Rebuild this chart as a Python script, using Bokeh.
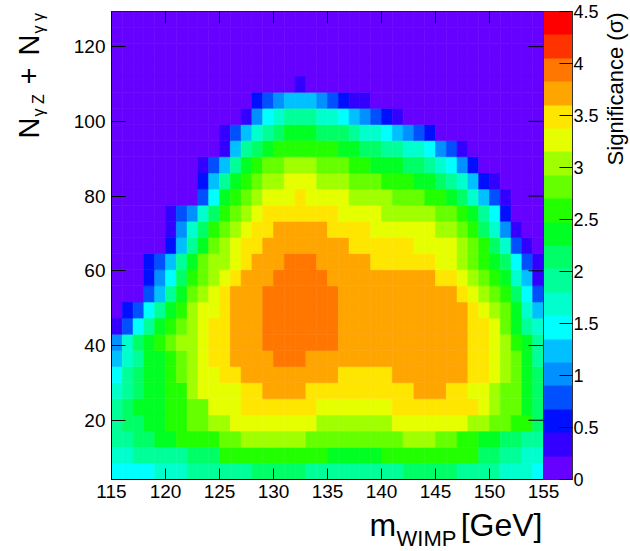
import numpy as np
from bokeh.plotting import figure
from bokeh.layouts import row, column
from bokeh.models import (ColumnDataSource, LinearColorMapper, ColorBar, FixedTicker,
                          PrintfTickFormatter, Range1d)
from bokeh.embed import file_html
from bokeh.resources import INLINE
from bokeh.core.properties import value

# ---------------- data ----------------
mass_edges = list(range(115, 156))          # m_WIMP bin edges [GeV], 1 GeV bins
count_lo, count_hi, n_count_bins = 4.14, 129.4, 29
x_ticks = [115, 120, 125, 130, 135, 140, 145, 150, 155]
y_ticks = [20, 40, 60, 80, 100, 120]
z_ticks = [0, 0.5, 1, 1.5, 2, 2.5, 3, 3.5, 4, 4.5]
palette = ["#6600FF", "#3300FF", "#0010FF", "#0050FF", "#0090FF", "#00C0FF", "#00FFFF",
           "#00FFCC", "#00FF99", "#00FF66", "#00FF22", "#22FF00", "#66FF00", "#A0FF00",
           "#E6FF00", "#FFE600", "#FFA500", "#FF7700", "#FF3300", "#FF0000"]

# significance per cell, rows from top (N ~ 129) to bottom (N ~ 4), 40 mass bins each
sig_rows = [
    [0.1] * 40,
    [0.1] * 40,
    [0.1] * 40,
    [0.1] * 40,
    [0.1] * 17 + [0.3] + [0.1] * 22,
    [0.1] * 13 + [0.5, 0.8, 1.0, 1.2, 1.2, 1.2, 1.0, 0.8, 0.5, 0.3, 0.3] + [0.1] * 16,
    [0.1] * 12 + [0.3, 1.0, 1.4, 1.7, 1.9, 1.9, 1.9, 1.7, 1.7, 1.4, 1.2, 1.0, 0.8, 0.5, 0.3] + [0.1] * 13,
    [0.1] * 10 + [0.3, 0.8, 1.2, 1.7, 1.9, 2.1, 2.4, 2.4, 2.4, 2.1, 2.1, 2.1, 1.9, 1.7, 1.7, 1.4,
                  1.2, 1.0, 0.8, 0.5] + [0.1] * 10,
    [0.1] * 10 + [0.3, 1.2, 1.9, 2.1, 2.4, 2.6, 2.6, 2.6, 2.6, 2.6, 2.6, 2.4, 2.4, 2.1, 2.1, 1.9,
                  1.9, 1.7, 1.7, 1.4, 1.0, 0.8, 0.3] + [0.1] * 7,
    [0.1] * 8 + [0.3, 0.8, 1.2, 1.9, 2.4, 2.6, 2.8, 2.8, 3.0, 3.0, 3.0, 2.8, 2.8, 2.8, 2.6, 2.6,
                 2.4, 2.4, 2.4, 2.1, 2.1, 1.9, 1.7, 1.4, 1.0, 0.5] + [0.1] * 6,
    [0.1] * 8 + [0.5, 1.2, 1.9, 2.4, 2.6, 2.8, 3.0, 3.0, 3.3, 3.3, 3.3, 3.0, 3.0, 3.0, 2.8, 2.8,
                 2.8, 2.6, 2.6, 2.6, 2.4, 2.4, 2.1, 1.9, 1.7, 1.2, 0.5, 0.3] + [0.1] * 4,
    [0.1] * 8 + [0.8, 1.4, 2.4, 2.6, 2.8, 3.0, 3.3, 3.3, 3.3, 3.5, 3.3, 3.3, 3.3, 3.3, 3.0, 3.0,
                 3.0, 3.0, 2.8, 2.8, 2.8, 2.6, 2.6, 2.4, 2.1, 1.7, 1.2, 0.8, 0.3] + [0.1] * 3,
    [0.1] * 5 + [0.3, 0.8, 1.0, 1.7, 2.1, 2.6, 2.8, 3.0, 3.3, 3.5, 3.5, 3.5, 3.5, 3.5, 3.5, 3.5,
                 3.3, 3.3, 3.3, 3.3, 3.0, 3.0, 3.0, 3.0, 3.0, 2.8, 2.8, 2.6, 2.4, 1.9, 1.4, 0.5] + [0.1] * 3,
    [0.1] * 5 + [0.3, 1.0, 1.7, 2.1, 2.6, 2.8, 3.0, 3.3, 3.5, 3.5, 3.7, 3.7, 3.7, 3.7, 3.7, 3.5,
                 3.5, 3.5, 3.5, 3.3, 3.3, 3.3, 3.3, 3.3, 3.3, 3.0, 3.0, 2.8, 2.6, 2.1, 1.7, 1.0, 0.3] + [0.1] * 2,
    [0.1] * 5 + [0.5, 1.2, 1.9, 2.4, 2.8, 3.0, 3.3, 3.5, 3.5, 3.7, 3.7, 3.7, 3.7, 3.7, 3.7, 3.7,
                 3.7, 3.5, 3.5, 3.5, 3.5, 3.5, 3.5, 3.3, 3.3, 3.3, 3.3, 3.0, 2.8, 2.6, 2.1, 1.7, 0.8, 0.3] + [0.1],
    [0.1] * 3 + [0.5, 0.8, 1.2, 1.9, 2.4, 2.8, 3.0, 3.0, 3.3, 3.5, 3.7, 3.7, 3.7, 3.9, 3.9, 3.9,
                 3.7, 3.7, 3.7, 3.7, 3.7, 3.5, 3.5, 3.5, 3.5, 3.5, 3.5, 3.3, 3.3, 3.0, 2.8, 2.6, 2.4,
                 2.1, 1.4, 0.8, 0.3],
    [0.1] * 3 + [0.5, 1.0, 1.4, 2.1, 2.6, 2.8, 3.0, 3.3, 3.5] + [3.7] * 3 + [3.9] * 5 + [3.7] * 10
    + [3.5, 3.5, 3.3, 3.0, 2.8, 2.6, 2.4, 1.7, 1.2, 0.3],
    [0.1] * 3 + [0.8, 1.2, 1.9, 2.4, 2.8, 3.0, 3.3, 3.5] + [3.7] * 3 + [3.9] * 7 + [3.7] * 11
    + [3.5, 3.3, 3.0, 2.8, 2.6, 2.1, 1.4, 0.8],
    [0.1] + [0.5, 0.8, 1.4, 1.9, 2.4, 2.6, 3.0, 3.3, 3.3, 3.5] + [3.7] * 3 + [3.9] * 7 + [3.7] * 12
    + [3.5, 3.3, 3.0, 2.8, 2.4, 1.7, 1.2],
    [0.3, 0.8, 1.4, 1.9, 2.4, 2.6, 2.8, 3.0, 3.3, 3.5, 3.5] + [3.7] * 3 + [3.9] * 7 + [3.7] * 12
    + [3.5, 3.5, 3.3, 2.8, 2.4, 1.9, 1.7],
    [1.0, 1.7, 2.1, 2.4, 2.6, 2.8, 3.0, 3.0, 3.3, 3.5, 3.5] + [3.7] * 3 + [3.9] * 7 + [3.7] * 12
    + [3.5, 3.5, 3.3, 3.0, 2.6, 2.4, 1.9],
    [1.2, 1.7, 1.9, 2.4, 2.4, 2.6, 2.8, 3.0, 3.3, 3.5, 3.5] + [3.7] * 4 + [3.9] * 3 + [3.7] * 15
    + [3.5, 3.5, 3.3, 3.0, 2.8, 2.4, 1.9],
    [1.4, 1.9, 2.1, 2.4, 2.4, 2.6, 2.8, 3.0, 3.3, 3.3, 3.5, 3.5] + [3.7] * 9 + [3.5] * 5 + [3.7] * 7
    + [3.5, 3.5, 3.3, 3.0, 2.8, 2.4, 2.1],
    [1.7, 1.9, 2.1, 2.4, 2.4, 2.6, 2.6, 3.0, 3.3, 3.3, 3.3, 3.3, 3.5, 3.5] + [3.7] * 4 + [3.5] * 10
    + [3.7] * 3 + [3.5, 3.5, 3.3, 3.3, 3.0, 2.8, 2.8, 2.4, 2.1],
    [1.9, 2.1, 2.4, 2.4, 2.4, 2.6, 2.6, 2.8, 2.8, 3.3, 3.3, 3.3] + [3.5] * 7 + [3.3] * 7 + [3.5] * 8
    + [3.3, 3.0, 2.8, 2.8, 2.4, 2.1],
    [1.9, 2.1, 2.1, 2.4, 2.4, 2.6, 2.6, 2.8, 2.8, 3.0, 3.0] + [3.3] * 8 + [3.0] * 7 + [3.3] * 7
    + [3.0, 3.0, 2.8, 2.8, 2.6, 2.6, 2.1],
    [1.9, 1.9, 2.1, 2.1, 2.4, 2.4, 2.6, 2.6, 2.6, 2.6, 2.8, 2.8] + [3.0] * 6 + [2.8] * 9 + [3.0] * 3
    + [2.8, 2.8, 2.6, 2.6, 2.4, 2.4, 2.1, 2.1, 1.9, 1.9],
    [1.7, 1.7] + [1.9] * 5 + [2.1] * 3 + [2.6] * 10 + [2.4] * 5 + [2.6] * 9
    + [2.1, 2.1, 1.9, 1.9, 1.7, 1.7],
    [1.4] * 4 + [1.7] * 3 + [1.9] * 6 + [2.1] * 5 + [1.9] * 9 + [2.1] * 5 + [1.9] * 4 + [1.7] * 3 + [1.4],
]

# ---------------- build cells ----------------
count_edges = np.linspace(count_lo, count_hi, n_count_bins + 1)
left, right, bottom, top, sig = [], [], [], [], []
for j, r in enumerate(sig_rows[::-1]):
    for i, s in enumerate(r):
        left.append(mass_edges[i]); right.append(mass_edges[i + 1])
        bottom.append(count_edges[j]); top.append(count_edges[j + 1])
        sig.append(s)
src = ColumnDataSource(dict(left=left, right=right, bottom=bottom, top=top, sig=sig))

FONT = "Liberation Sans"
PAGE_H = 551
LEFT_W = 58            # width of the strip holding the y title
B_LEFT, B_RIGHT, B_TOP, B_BOTTOM = 53, 60, 11, 27
FRAME_W, FRAME_H = 432, 468
MAIN_W = B_LEFT + FRAME_W + B_RIGHT
MAIN_H = B_TOP + FRAME_H + B_BOTTOM
RIGHT_W = 630 - LEFT_W - MAIN_W
mapper = LinearColorMapper(palette=palette, low=0, high=4.5)

# ---------------- main panel ----------------
p = figure(width=MAIN_W, height=MAIN_H,
           x_range=Range1d(mass_edges[0], mass_edges[-1]), y_range=Range1d(count_lo, count_hi),
           output_backend="svg", toolbar_location=None,
           min_border_left=B_LEFT, min_border_right=B_RIGHT, min_border_top=B_TOP,
           min_border_bottom=B_BOTTOM,
           background_fill_color="white", border_fill_color="white")
p.grid.visible = False
p.outline_line_color = "black"
p.outline_line_width = 1

p.quad(left="left", right="right", bottom="bottom", top="top", source=src,
       fill_color={"field": "sig", "transform": mapper},
       line_color={"field": "sig", "transform": mapper}, line_width=0.6)

xa = p.xaxis[0]
xa.ticker = FixedTicker(ticks=x_ticks)
xa.major_tick_in = 11
xa.major_tick_out = 0
xa.major_label_standoff = 5
ya = p.yaxis[0]
ya.ticker = FixedTicker(ticks=y_ticks)
ya.major_tick_in = 14
ya.major_tick_out = 0
ya.major_label_standoff = 6
for ax in (xa, ya):
    ax.minor_tick_line_color = None
    ax.major_label_text_font = FONT
    ax.major_label_text_font_size = "19px"
    ax.major_label_text_color = "black"
    ax.axis_line_color = "black"
    ax.major_tick_line_color = "black"

# mirrored ticks on the top and right frame edges
top_len = 12 / 3.736
right_len = 15 / 10.8
p.segment(x0=x_ticks, x1=x_ticks, y0=[count_hi] * len(x_ticks),
          y1=[count_hi - top_len] * len(x_ticks), line_color="black", line_width=1)
p.segment(x0=[mass_edges[-1]] * len(y_ticks), x1=[mass_edges[-1] - right_len] * len(y_ticks),
          y0=y_ticks, y1=y_ticks, line_color="black", line_width=1)

cb = ColorBar(color_mapper=mapper, ticker=FixedTicker(ticks=z_ticks),
              formatter=PrintfTickFormatter(format="%g"),
              location="top_left", width=29, padding=0, margin=4,
              major_tick_in=13, major_tick_out=0, major_tick_line_color="black",
              minor_tick_line_color=None, label_standoff=1,
              major_label_text_font=FONT, major_label_text_font_size="18px",
              major_label_text_color="black",
              bar_line_color="#333333", border_line_color=None, background_fill_color=None)
p.add_layout(cb, "right")


# ---------------- text strips ----------------
MID = 0.3465   # centre of the text box above the baseline, in em


def strip(w, h, x_start, x_end, bl=0, br=0):
    # blank figure: x in page pixels (x_start..x_end over its frame), y measured from strip bottom
    return figure(width=w, height=h, x_range=Range1d(x_start, x_end), y_range=Range1d(0, h),
                  x_axis_type=None, y_axis_type=None, output_backend="svg",
                  toolbar_location=None, min_border=0, min_border_left=bl, min_border_right=br,
                  outline_line_color=None,
                  background_fill_color="white", border_fill_color="white")


def put(f, y0, h, text, cx, cy, size):
    f.text(x=[cx], y=[h - (cy - y0)], text=[text], angle=0.0,
           text_font=value(FONT), text_font_size=f"{size}px", text_align="center",
           text_baseline="middle", text_color="black")


def put_up(f, y0, h, text, base_x, start_y, size, width_em):
    # text reading bottom-to-top: baseline at page x = base_x, text starts at page y = start_y
    cx = base_x - MID * size
    cy = start_y - width_em * size / 2
    f.text(x=[cx], y=[h - (cy - y0)], text=[text], angle=np.pi / 2,
           text_font=value(FONT), text_font_size=f"{size}px", text_align="center",
           text_baseline="middle", text_color="black")


# y-axis title  N_{γ Z} + N_{γ γ}
ylab = strip(LEFT_W, PAGE_H, 0, LEFT_W)
put_up(ylab, 0, PAGE_H, "N", 38.5, 138, 29, 0.722)
put_up(ylab, 0, PAGE_H, "γ Z", 43.5, 116, 16, 1.39)
put_up(ylab, 0, PAGE_H, "+", 38.5, 84, 29, 0.584)
put_up(ylab, 0, PAGE_H, "N", 38.5, 55, 29, 0.722)
put_up(ylab, 0, PAGE_H, "γ γ", 43.5, 33, 16, 1.28)

# x-axis title  m_WIMP [GeV]  (strip frame spans the same page x as the main frame)
XB_H = PAGE_H - MAIN_H
fx0 = LEFT_W + B_LEFT
fx1 = fx0 + FRAME_W
xlab = strip(MAIN_W, XB_H, fx0, fx1, bl=B_LEFT, br=B_RIGHT)
put(xlab, MAIN_H, XB_H, "m", 369 + 0.833 * 32 / 2, 536 - MID * 32, 32)
put(xlab, MAIN_H, XB_H, "WIMP", 396 + 2.722 * 22 / 2, 546 - MID * 22, 22)
put(xlab, MAIN_H, XB_H, "[GeV]", 542 - 2.557 * 32 / 2, 536 - MID * 32, 32)

# colour-bar title (reads bottom to top, aligned to the top)
zx0 = LEFT_W + MAIN_W
zlab = strip(RIGHT_W, PAGE_H, zx0, zx0 + RIGHT_W)
TITLE_EM = 7.13
put_up(zlab, 0, PAGE_H, "Significance (σ)", 623, 10 + TITLE_EM * 22, 22, TITLE_EM)

layout = row(ylab, column(p, xlab), zlab)
open("out.html", "w").write(file_html(layout, INLINE))
